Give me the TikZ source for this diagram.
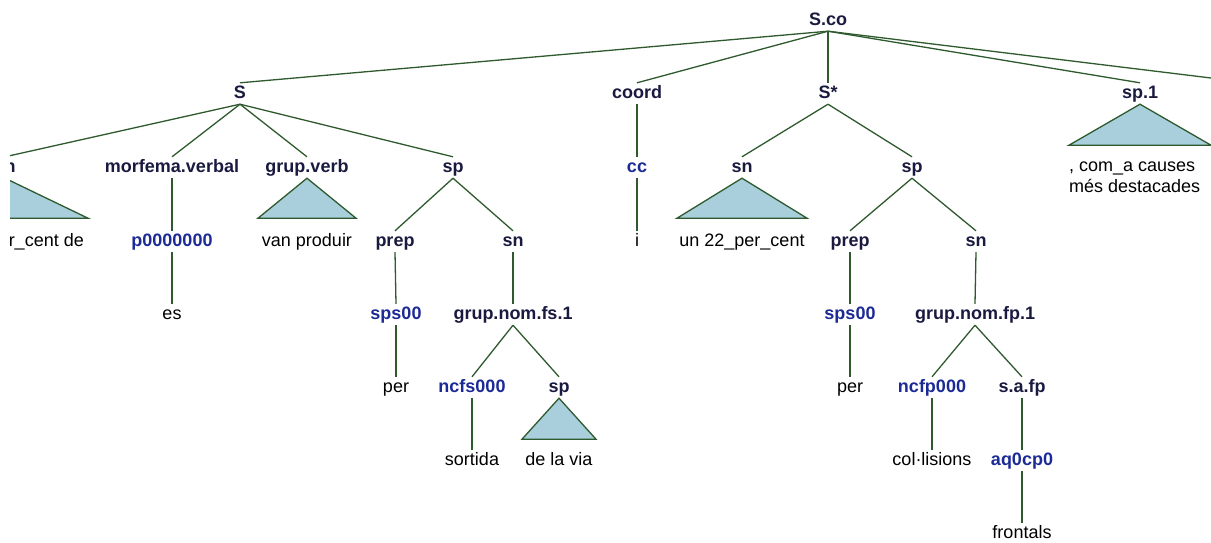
\documentclass[tikz,border=0pt]{standalone}
\usepackage{fontspec}
\setmainfont{Liberation Sans}

\definecolor{catcol}{HTML}{1A1A40}
\definecolor{tagcol}{HTML}{1C2A96}
\definecolor{edgecol}{HTML}{2E5A2E}
\definecolor{trifill}{HTML}{A9CFDD}

\begin{document}
\begin{tikzpicture}[x=1pt, y=-1pt,
  lbl/.style={inner sep=2pt, text height=13pt, text depth=4pt, anchor=base,
    font=\fontsize{18}{21}\selectfont},
  cat/.style={lbl, font=\fontsize{18}{21}\selectfont\bfseries, text=catcol},
  tag/.style={lbl, font=\fontsize{18}{21}\selectfont\bfseries, text=tagcol},
  word/.style={lbl, text=black},
  edge/.style={edgecol, line width=1.3pt},
  tri/.style={edgecol, line width=1.3pt, fill=trifill}]

  \useasboundingbox (0,0) rectangle (1211,542);
  \begin{scope}
  \clip (10,0) rectangle (1211,542);

  % -- Root and first level --
  \node[cat] (sco) at (828,25) {S.co};
  \node[cat] (s) at (240,98) {S};
  \node[cat] (coord) at (637,98) {coord};
  \node[cat] (sstar) at (828,98) {S*};
  \node[cat] (sp1) at (1140,98) {sp.1};
  \coordinate (offr) at (1211,78);

  % -- Second level --
  \node[cat] (sn1) at (5,172) {sn};
  \node[cat] (morf) at (172,172) {morfema.verbal};
  \node[cat] (gv) at (307,172) {grup.verb};
  \node[cat] (sp2) at (453,172) {sp};
  \node[tag] (cc) at (637,172) {cc};
  \node[cat] (sn3) at (742,172) {sn};
  \node[cat] (sp4) at (912,172) {sp};
  \node[font=\fontsize{18}{21}\selectfont, align=left, inner sep=0pt, anchor=north west]
    (wsp1) at (1069,157) {\strut, com\_a causes\\més destacades};

  % -- Third level --
  \node[word, anchor=base east] (wsn1) at (86,246) {r\_cent de};
  \node[tag] (p0) at (172,246) {p0000000};
  \node[word] (wgv) at (307,246) {van produir};
  \node[cat] (prep1) at (395,246) {prep};
  \node[cat] (sn2) at (513,246) {sn};
  \node[word] (wi) at (637,246) {i};
  \node[word] (wsn3) at (742,246) {un 22\_per\_cent};
  \node[cat] (prep2) at (850,246) {prep};
  \node[cat] (sn4) at (976,246) {sn};

  % -- Fourth level --
  \node[word] (wes) at (172,319) {es};
  \node[tag] (sps1) at (396,319) {sps00};
  \node[cat] (gnfs) at (513,319) {grup.nom.fs.1};
  \node[tag] (sps2) at (850,319) {sps00};
  \node[cat] (gnfp) at (975,319) {grup.nom.fp.1};

  % -- Fifth level and below --
  \node[word] (wper1) at (396,392) {per};
  \node[tag] (ncfs) at (472,392) {ncfs000};
  \node[cat] (sp3) at (559,392) {sp};
  \node[word] (wper2) at (850,392) {per};
  \node[tag] (ncfp) at (932,392) {ncfp000};
  \node[cat] (safp) at (1022,392) {s.a.fp};
  \node[word] (wsort) at (472,465) {sortida};
  \node[word] (wvia) at (559,465) {de la via};
  \node[word] (wcol) at (932,465) {col·lisions};
  \node[tag] (aq) at (1022,465) {aq0cp0};
  \node[word] (wfront) at (1022,538) {frontals};

  % -- Branches from S.co --
  \draw[edge] (sco.south) -- (s.north);
  \draw[edge] (sco.south) -- (coord.north);
  \draw[edge] (sco.south) -- (sstar.north);
  \draw[edge] (sco.south) -- (sp1.north);
  \draw[edge] (sco.south) -- (offr);

  % -- Left clause --
  \draw[edge] (s.south) -- (sn1.north);
  \draw[edge] (s.south) -- (morf.north);
  \draw[edge] (s.south) -- (gv.north);
  \draw[edge] (s.south) -- (sp2.north);
  \draw[edge] (morf.south) -- (p0.north);
  \draw[edge] (p0.south) -- (wes.north);
  \draw[edge] (sp2.south) -- (prep1.north);
  \draw[edge] (sp2.south) -- (sn2.north);
  \draw[edge] (prep1.south) -- (sps1.north);
  \draw[edge] (sps1.south) -- (wper1.north);
  \draw[edge] (sn2.south) -- (gnfs.north);
  \draw[edge] (gnfs.south) -- (ncfs.north);
  \draw[edge] (gnfs.south) -- (sp3.north);
  \draw[edge] (ncfs.south) -- (wsort.north);

  % -- Coordinator --
  \draw[edge] (coord.south) -- (cc.north);
  \draw[edge] (cc.south) -- (wi.north);

  % -- Right clause --
  \draw[edge] (sstar.south) -- (sn3.north);
  \draw[edge] (sstar.south) -- (sp4.north);
  \draw[edge] (sp4.south) -- (prep2.north);
  \draw[edge] (sp4.south) -- (sn4.north);
  \draw[edge] (prep2.south) -- (sps2.north);
  \draw[edge] (sps2.south) -- (wper2.north);
  \draw[edge] (sn4.south) -- (gnfp.north);
  \draw[edge] (gnfp.south) -- (ncfp.north);
  \draw[edge] (gnfp.south) -- (safp.north);
  \draw[edge] (ncfp.south) -- (wcol.north);
  \draw[edge] (safp.south) -- (aq.north);
  \draw[edge] (aq.south) -- (wfront.north);

  % -- Collapsed subtrees --
  \draw[tri] (sn1.south) -- ++(83,40) -- ++(-166,0) -- cycle;
  \draw[tri] (gv.south) -- ++(-49,40) -- ++(98,0) -- cycle;
  \draw[tri] (sn3.south) -- ++(-65,40) -- ++(130,0) -- cycle;
  \draw[tri] (sp3.south) -- ++(-37,41) -- ++(74,0) -- cycle;
  \draw[tri] (sp1.south) -- ++(-71,41) -- ++(142,0) -- cycle;
  \end{scope}

\end{tikzpicture}
\end{document}
